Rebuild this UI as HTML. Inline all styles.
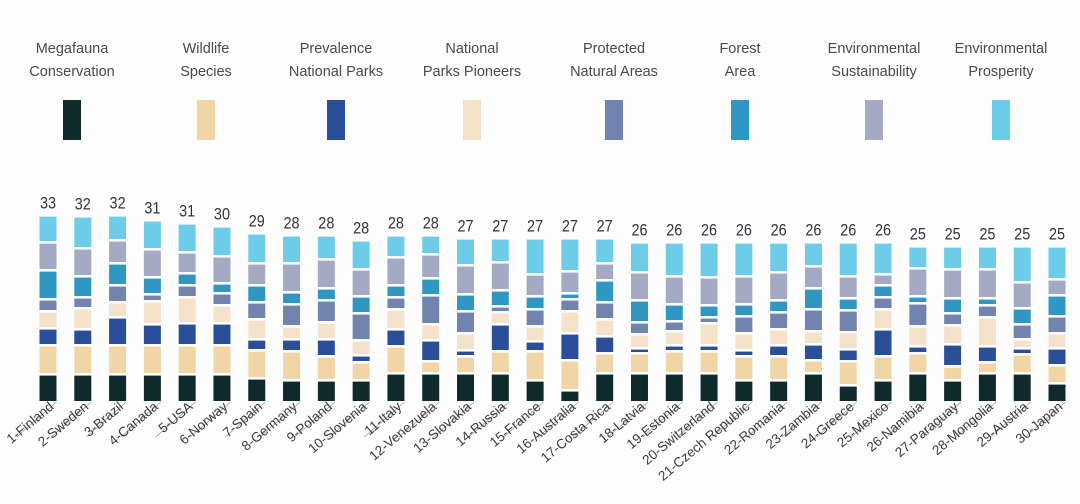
<!DOCTYPE html>
<html><head><meta charset="utf-8"><style>
html,body{margin:0;padding:0;background:#fdfdfd;}
svg{display:block;font-family:"Liberation Sans",sans-serif;}
</style></head><body>
<svg id="chart" width="1080" height="504" viewBox="0 0 1080 504"></svg>
<script>
const countries=["Finland","Sweden","Brazil","Canada","USA","Norway","Spain","Germany","Poland","Slovenia","Italy","Venezuela","Slovakia","Russia","France","Australia","Costa Rica","Latvia","Estonia","Switzerland","Czech Republic","Romania","Zambia","Greece","Mexico","Namibia","Paraguay","Mongolia","Austria","Japan"];
const totals=[33,32,32,31,31,30,29,28,28,28,28,28,27,27,27,27,27,26,26,26,26,26,26,26,26,25,25,25,25,25];
const seriesNames=["Megafauna Conservation","Wildlife Species","Prevalence National Parks","National Parks Pioneers","Protected Natural Areas","Forest Area","Environmental Sustainability","Environmental Prosperity"];
const megafauna=[28,28,28,28,28,28,24,22,22,22,29,29,29,29,22,12,29,29,29,29,22,22,29,17,22,29,22,29,29,19];
const wildlife=[29,29,29,29,29,29,28,29,24,18,27,12,17,22,29,30,20,20,22,22,24,24,13,24,24,20,14,11,19,18];
const prevalence=[17,16,28,21,22,22,11,12,17,7,17,21,6,27,10,27,17,5,6,6,6,11,16,12,27,7,22,16,6,17];
const pioneers=[17,21,15,23,26,18,20,13,17,15,20,16,17,12,15,22,17,14,14,22,17,16,13,17,20,20,19,29,9,15];
const protectedAreas=[12,11,17,7,12,12,17,22,22,27,12,29,22,6,17,12,17,12,10,6,17,17,22,22,12,23,12,12,15,17];
const forest=[29,21,22,17,12,10,17,12,12,17,12,17,17,16,13,6,22,22,17,12,12,12,21,12,12,7,15,7,16,21];
const sustainability=[28,28,23,28,21,27,22,29,29,27,28,24,29,28,22,22,17,28,28,28,28,28,22,22,11,28,29,29,26,16];
const prosperity=[27,32,25,29,29,30,30,28,24,29,22,19,27,24,36,33,25,30,34,35,34,30,24,34,32,22,23,23,36,33];
const series=[megafauna,wildlife,prevalence,pioneers,protectedAreas,forest,sustainability,prosperity];
const colors=["#0e2a2b","#f0d6a6","#2a4f98","#f4e2cb","#7283ae","#2f97c1","#a4aac3","#6dcde9"];
const legendLines=[["Megafauna","Conservation"],["Wildlife","Species"],["Prevalence","National Parks"],["National","Parks Pioneers"],["Protected","Natural Areas"],["Forest","Area"],["Environmental","Sustainability"],["Environmental","Prosperity"]];

const NS="http://www.w3.org/2000/svg";
const svg=document.getElementById('chart');
function el(t,a,p){const e=document.createElementNS(NS,t);for(const k in a)e.setAttribute(k,a[k]);(p||svg).appendChild(e);return e;}
const baseY=401, x0=48, step=(1057-48)/29, barW=17, gap=2.6;
const xPos=i=>x0+i*step;
const yScale=v=>baseY-v;

// legend
const legX=[72,206,336,472,614,740,874,1001];
legendLines.forEach((ln,i)=>{
  const g=el('g',{});
  
  
  const t1=el('text',{x:legX[i],y:53,'text-anchor':'middle','font-size':'14.5','fill':'#4a4a4a'},g);t1.textContent=ln[0];
  const t2=el('text',{x:legX[i],y:76,'text-anchor':'middle','font-size':'14.5','fill':'#4a4a4a'},g);t2.textContent=ln[1];
  const r=el('rect',{x:legX[i]-9,y:100,width:18,height:40,fill:colors[i]},g);
  
  
});

// bars
countries.forEach((c,i)=>{
  const g=el('g',{});
  
  
  let cum=0;const cx=xPos(i);
  series.forEach((s,k)=>{
    const y1=yScale(cum), y2=yScale(cum+s[i]);
    const h=Math.max(0,y1-y2-gap);
    const r=el('rect',{x:cx-barW/2,y:y2+gap,width:barW,height:h,fill:colors[k]},g);
    
    
    cum+=s[i];
  });
  const topY=yScale(cum)+gap;
  const v=el('text',{x:cx,y:topY-8,'text-anchor':'middle','font-size':'17','fill':'#2e3440','transform':`translate(${cx},0) scale(0.85,1) translate(${-cx},0)`});
  
  
  v.textContent=totals[i];
  // leader line
  const ln=el('line',{x1:cx+barW/2,y1:baseY+1,x2:cx+barW/2-40,y2:baseY+36,stroke:'#9a9a9a','stroke-width':'0.8'});
  
  
  const t=el('text',{x:0,y:0,'text-anchor':'end','font-size':'13.5','fill':'#3a3a3a','transform':`translate(${cx+barW/2-2},${baseY+7}) rotate(-40)`});
  
  
  t.textContent=(i+1)+'-'+c;
});
</script>
</body></html>
